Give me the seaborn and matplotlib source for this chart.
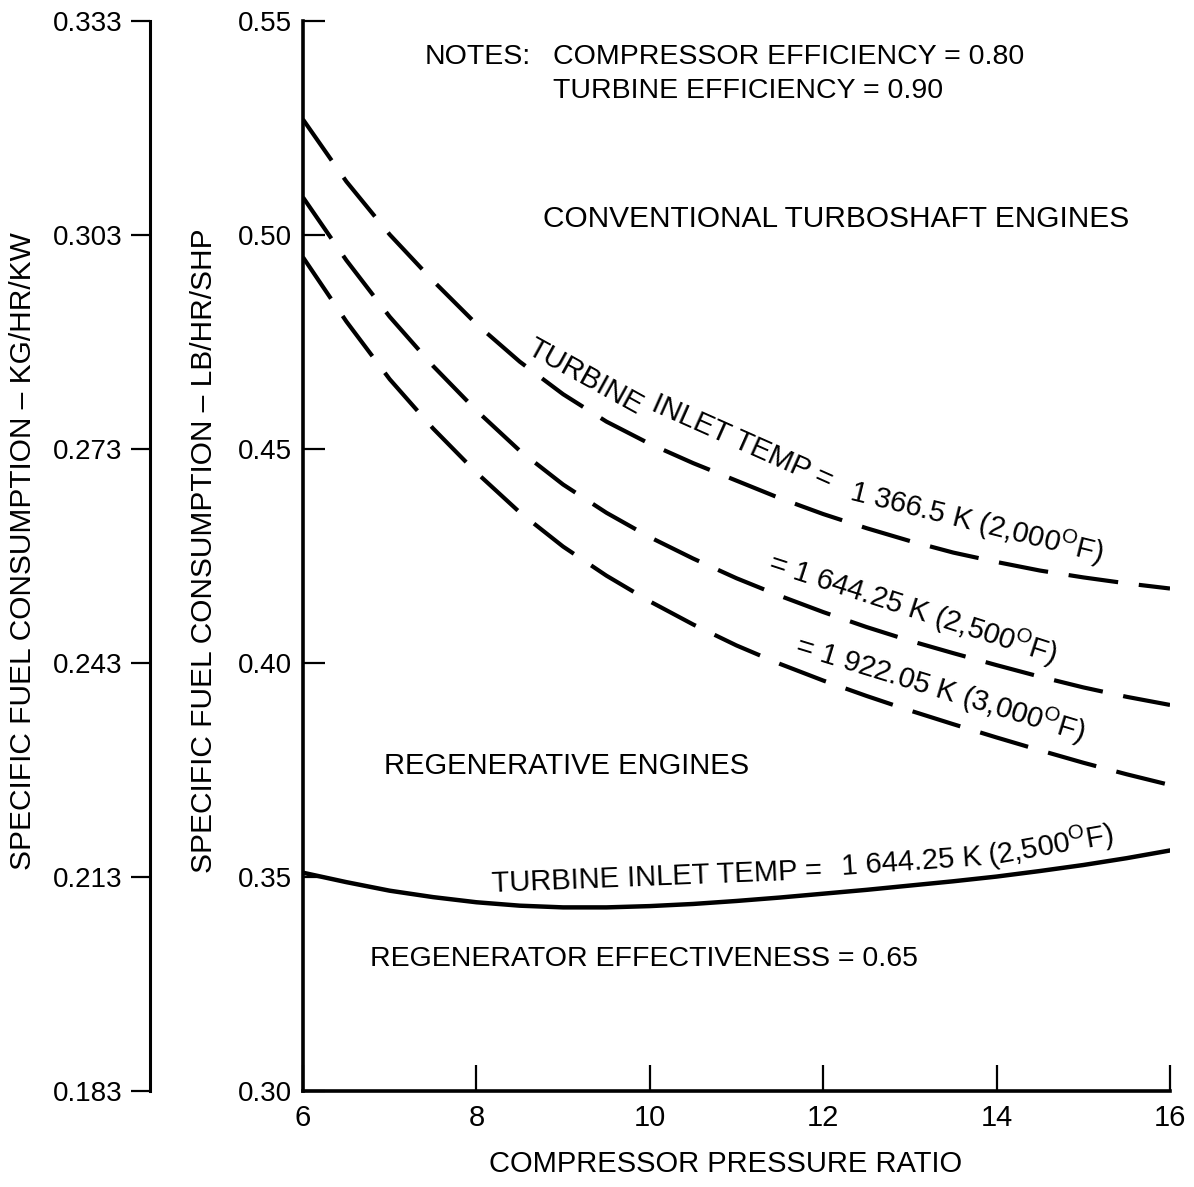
import matplotlib
matplotlib.use("Agg")
import matplotlib.pyplot as plt
from matplotlib import font_manager
import seaborn as sns
import numpy as np
import pandas as pd

# ---------------- data ----------------
pressure_ratio = [6, 6.5, 7, 7.5, 8, 8.5, 9, 9.5, 10, 10.5, 11, 11.5, 12, 12.5, 13,
                  13.5, 14, 14.5, 15, 15.5, 16]
sfc_2000F = [0.5270, 0.5125, 0.5001, 0.4893, 0.4792, 0.4704, 0.4628, 0.4564, 0.4512,
             0.4467, 0.4426, 0.4385, 0.4348, 0.4315, 0.4285, 0.4258, 0.4236, 0.4216,
             0.4200, 0.4186, 0.4174]
sfc_2500F = [0.5088, 0.4941, 0.4809, 0.4694, 0.4590, 0.4496, 0.4417, 0.4351, 0.4294,
             0.4244, 0.4198, 0.4157, 0.4119, 0.4084, 0.4052, 0.4023, 0.3995, 0.3968,
             0.3943, 0.3921, 0.3902]
sfc_3000F = [0.4948, 0.4798, 0.4663, 0.4548, 0.4445, 0.4352, 0.4272, 0.4204, 0.4144,
             0.4090, 0.4041, 0.3998, 0.3959, 0.3923, 0.3889, 0.3857, 0.3826, 0.3796,
             0.3767, 0.3740, 0.3715]
sfc_regen_2500F = [0.3510, 0.3488, 0.3468, 0.3453, 0.3441, 0.3433, 0.3429, 0.3429,
                   0.3432, 0.3437, 0.3444, 0.3452, 0.3461, 0.3470, 0.3480, 0.3490,
                   0.3501, 0.3514, 0.3528, 0.3544, 0.3562]

x_ticks = [6, 8, 10, 12, 14, 16]
y_ticks_lb = [0.30, 0.35, 0.40, 0.45, 0.50, 0.55]
y_ticks_kg = [0.183, 0.213, 0.243, 0.273, 0.303, 0.333]

# ---------------- style ----------------
sns.set_style("white")
plt.rcParams['font.family'] = ['Liberation Sans', 'DejaVu Sans']
plt.rcParams['mathtext.fontset'] = 'custom'
plt.rcParams['mathtext.rm'] = 'Liberation Sans'

installed = {f.name for f in font_manager.fontManager.ttflist}
narrow = 'Liberation Sans Narrow' if 'Liberation Sans Narrow' in installed else 'Liberation Sans'

W, H = 1194, 1187
fig = plt.figure(figsize=(W / 100, H / 100), dpi=100)
fig.patch.set_facecolor('white')

ax_l, ax_r, ax_t, ax_b = 303, 1170, 21, 1091
ax = fig.add_axes([ax_l / W, 1 - ax_b / H, (ax_r - ax_l) / W, (ax_b - ax_t) / H])
ax.set_facecolor('white')

dash = (0, (12, 5))
for vals in (sfc_2000F, sfc_2500F, sfc_3000F):
    sns.lineplot(x=pressure_ratio, y=vals, ax=ax, color='black', lw=3.0,
                 linestyle=dash, legend=False)
sns.lineplot(x=pressure_ratio, y=sfc_regen_2500F, ax=ax, color='black', lw=3.2,
             legend=False)

ax.set_xlim(6, 16)
ax.set_ylim(0.30, 0.55)
ax.set_xticks(x_ticks)
ax.set_xticklabels([str(v) for v in x_ticks], fontsize=21, family=[narrow, 'DejaVu Sans'])
ax.set_yticks(y_ticks_lb)
ax.set_yticklabels([f"{v:.2f}" for v in y_ticks_lb], fontsize=20)
for s in ('top', 'right'):
    ax.spines[s].set_visible(False)
for s in ('left', 'bottom'):
    ax.spines[s].set_linewidth(2.6)
    ax.spines[s].set_color('black')
ax.tick_params(axis='x', bottom=True, direction='in', length=19, width=1.6, pad=9,
               colors='black')
ax.tick_params(axis='y', left=True, direction='in', length=16, width=1.6, pad=8,
               colors='black')
ax.set_xlabel("")
ax.set_ylabel("")

# ---------------- secondary (metric) axis on the far left ----------------
ax2 = fig.add_axes([150 / W, 1 - ax_b / H, 0.0005, (ax_b - ax_t) / H])
ax2.set_ylim(0.183, 0.333)
ax2.set_yticks(y_ticks_kg)
ax2.set_yticklabels([f"{v:.3f}" for v in y_ticks_kg], fontsize=20)
ax2.set_xticks([])
for s in ('top', 'right', 'bottom'):
    ax2.spines[s].set_visible(False)
ax2.spines['left'].set_linewidth(2.2)
ax2.spines['left'].set_color('black')
ax2.tick_params(axis='y', left=True, direction='out', length=14, width=1.6, pad=6,
                colors='black')
ax2.patch.set_alpha(0)


def ftext(px, py, s, **kw):
    kw.setdefault('fontsize', 21)
    kw.setdefault('ha', 'left')
    kw.setdefault('va', 'baseline')
    kw.setdefault('rotation_mode', 'anchor')
    fig.text(px / W, 1 - py / H, s, color='black', **kw)


# axis titles
ftext(726, 1172, "COMPRESSOR PRESSURE RATIO", ha='center')
ftext(23, 551, "SPECIFIC FUEL CONSUMPTION \u2013 KG/HR/KW", ha='center', va='center',
      rotation=90, fontsize=21.5)
ftext(204, 551, "SPECIFIC FUEL CONSUMPTION \u2013 LB/HR/SHP", ha='center', va='center',
      rotation=90, fontsize=21.5)

# notes
ftext(425, 64, "NOTES:", fontsize=20.5)
ftext(553, 64, "COMPRESSOR EFFICIENCY = 0.80", fontsize=20.5)
ftext(553, 98, "TURBINE EFFICIENCY = 0.90", fontsize=20.5)

ftext(543, 227, "CONVENTIONAL TURBOSHAFT ENGINES", fontsize=21.5)
ftext(384, 774, "REGENERATIVE ENGINES")
ftext(370, 966, "REGENERATOR EFFECTIVENESS = 0.65", fontsize=20.5)

deg = r"$\mathregular{^O}$"
# label of the 2,000 F curve (follows the curve)
ftext(525, 353, "TURBINE", rotation=-29)
ftext(650, 410, "INLET TEMP =", rotation=-24)
ftext(848, 500, "1 366.5 K (2,000" + deg + "F)", rotation=-14)
# 2,500 F
ftext(766, 571, "= 1 644.25 K (2,500" + deg + "F)", rotation=-18)
# 3,000 F
ftext(793, 654, "= 1 922.05 K (3,000" + deg + "F)", rotation=-17)
# regenerative curve label (rises to the right)
ftext(492, 892, "TURBINE INLET TEMP =", rotation=2.3)
ftext(842, 875, "1 644.25 K", rotation=4)
ftext(990, 866, "(2,500" + deg + "F)", rotation=10)

fig.savefig("out.png", dpi=100, facecolor='white')
